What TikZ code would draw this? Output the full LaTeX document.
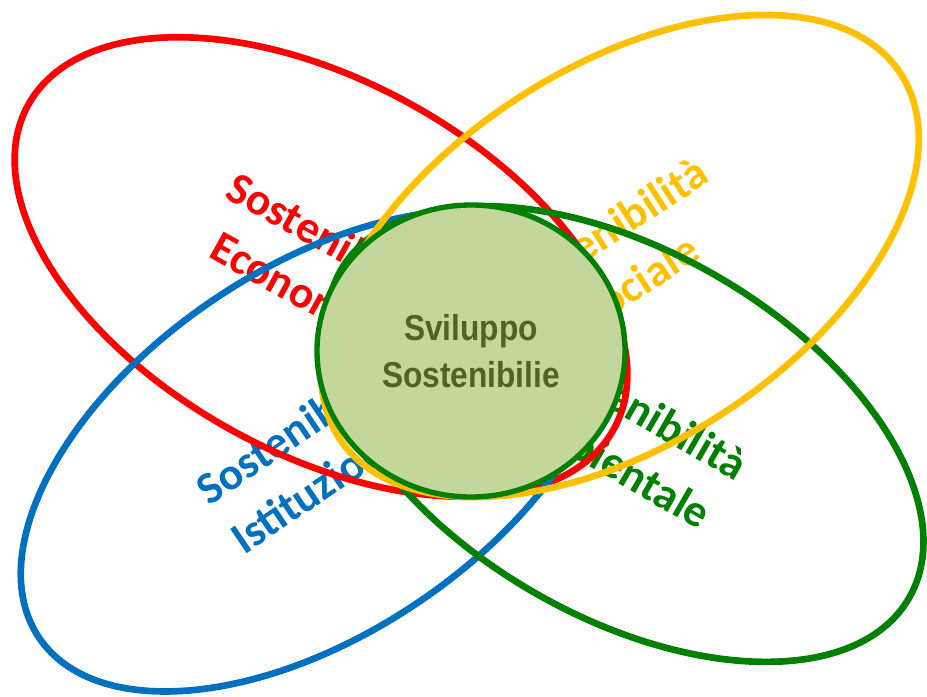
\documentclass[tikz,border=0pt]{standalone}
\usepackage{fontspec}
\setmainfont{Carlito}
\newfontfamily\corefont[FakeStretch=0.88]{Liberation Sans}
\usetikzlibrary{shapes.geometric}
\definecolor{svred}{RGB}{255,0,0}
\definecolor{svyellow}{RGB}{255,192,0}
\definecolor{svblue}{RGB}{0,112,192}
\definecolor{svgreen}{RGB}{0,128,0}
\definecolor{svfill}{RGB}{195,214,155}
\definecolor{svtext}{RGB}{79,98,40}
\tikzset{
  ring/.style={draw=#1, ellipse, line width=5pt, inner sep=0pt},
  pillar/.style={text=#1, font=\fontsize{34}{45}\selectfont\bfseries, align=center},
  core/.style={draw=svgreen, fill=svfill, ellipse, line width=4pt, minimum width=231pt, minimum height=219pt, text=svtext, align=center, font=\corefont\fontsize{27}{35}\selectfont\bfseries}
}
\begin{document}
\begin{tikzpicture}[x=0.75pt, y=-0.75pt]
  \useasboundingbox (0,0) rectangle (927,696);
  % labels first, the rings pass over them
  \node[pillar=svred, rotate=-29] (econ) at (318,266) {Sostenibilità\\Economica};
  \node[pillar=svblue, rotate=34] (istit) at (314,453) {Sostenibilità\\Istituzionale};
  \node[pillar=svgreen, rotate=-30] (ambi) at (628,436) {Sostenibilità\\Ambientale};
  \node[pillar=svyellow, rotate=33] (soci) at (622,256) {Sostenibilità\\Sociale};
  % rings
  \node[ring=svred, rotate=-29, minimum width=502pt, minimum height=279pt] (econring) at (321,267) {};
  \node[ring=svblue, rotate=34, minimum width=501pt, minimum height=274pt] (istitring) at (316,451) {};
  \node[ring=svgreen, rotate=-30, minimum width=492pt, minimum height=274pt] (ambiring) at (625,434) {};
  \node[ring=svyellow, rotate=33, minimum width=502pt, minimum height=282pt] (sociring) at (620,256) {};
  % centre
  \node[core] (sviluppo) at (471,351) {Sviluppo\\Sostenibilie};
\end{tikzpicture}
\end{document}
